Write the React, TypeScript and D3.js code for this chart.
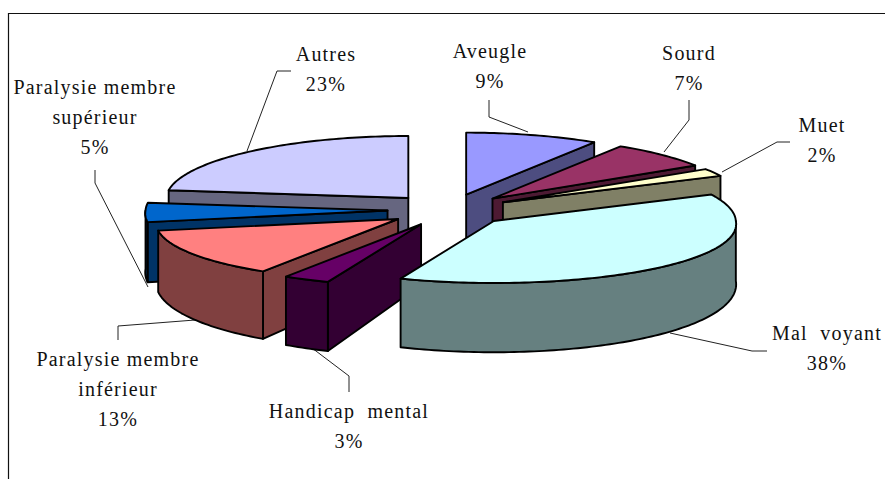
import React from "react";
import * as d3 from "d3";

const categories = ["Aveugle", "Sourd", "Muet", "Mal voyant", "Handicap mental", "Paralysie membre inférieur", "Paralysie membre supérieur", "Autres"];
const values = [9, 7, 2, 38, 3, 13, 5, 23];
const topColors = ["#9999FF", "#993366", "#FFFFCC", "#CCFFFF", "#660066", "#FF8080", "#0066CC", "#CCCCFF"];
const wallColors = ["#4D4D80", "#4D1A33", "#808066", "#668080", "#330033", "#804040", "#003366", "#666680"];
const drawOrder = [7, 0, 1, 2, 6, 5, 4, 3];

const labelLines = [
  ["Aveugle", "9%"],
  ["Sourd", "7%"],
  ["Muet", "2%"],
  ["Mal  voyant", "38%"],
  ["Handicap  mental", "3%"],
  ["Paralysie membre", "inférieur", "13%"],
  ["Paralysie membre", "supérieur", "5%"],
  ["Autres", "23%"],
];
const labelAnchors = [[490, 58], [689, 60], [822, 132], [827, 340], [349, 418], [118, 366], [95, 94], [326, 61]];
const leaders = [
  [[489, 100], [489, 117], [528, 132]],
  [[689, 100], [689, 120], [664, 152]],
  [[790, 142], [777, 142], [722, 172]],
  [[767, 351], [752, 351], [670, 333]],
  [[349, 392], [349, 376], [312, 348]],
  [[118, 340], [118, 326], [195, 320]],
  [[95, 170], [95, 183], [148, 287]],
  [[291, 71], [277, 71], [247, 151]],
];

const W = 885, H = 479;
const cx = 449, cy = 210, rx = 242, ry = 62, explodeX = 61.5, explodeY = 16;
const depth = d3.scaleLinear().domain([142, 281]).range([48, 69]);
const line = d3.line();

const arcs = d3.pie<number>().sort(null).startAngle(0).endAngle(2 * Math.PI)(values);

function bottom([x, y]: number[]) { return [x, y + depth(y)]; }

function sample(a: number, b: number, ox: number, oy: number) {
  const n = Math.max(2, Math.ceil((b - a) / 0.02));
  return d3.range(n + 1).map((i) => {
    const t = a + ((b - a) * i) / n;
    const c = Math.cos(t);
    const persp = c < 0 ? 1 - 0.05 * c : 1 - 0.015 * c;
    return [ox + rx * persp * Math.sin(t), oy - ry * c];
  });
}

function Slice({ i }: { i: number }) {
  const { startAngle: a, endAngle: b } = arcs[i];
  const mid = (a + b) / 2;
  const ox = cx + explodeX * Math.sin(mid);
  const oy = cy - explodeY * Math.cos(mid);
  const apex = [ox, oy];
  const rimA = Math.max(a, Math.PI / 2), rimB = Math.min(b, (3 * Math.PI) / 2);
  const edge = sample(a, b, ox, oy);
  const parts: any[] = [];
  const wall = (p: number[], k: string) => (
    <path key={k} d={line([apex, p, bottom(p), bottom(apex)]) + "Z"} fill={wallColors[i]} stroke="#000" strokeWidth={1.9} strokeLinejoin="round" />
  );
  if (Math.sin(a) < -1e-6) parts.push(wall(edge[0], "s"));
  if (Math.sin(b) > 1e-6) parts.push(wall(edge[edge.length - 1], "e"));
  if (rimB > rimA) {
    const rim = sample(rimA, rimB, ox, oy);
    parts.push(<path key="r" d={line([...rim, ...rim.slice().reverse().map(bottom)]) + "Z"} fill={wallColors[i]} stroke="#000" strokeWidth={1.9} strokeLinejoin="round" />);
  }
  parts.push(<path key="t" d={line([apex, ...edge]) + "Z"} fill={topColors[i]} stroke="#000" strokeWidth={1.9} strokeLinejoin="round" />);
  return <g>{parts}</g>;
}

export default function App() {
  return (
    <svg width={W} height={H} viewBox={`0 0 ${W} ${H}`} style={{ position: "absolute", left: 0, top: 0, background: "#fff" }}>
      <path d={`M8.5,${H} V13.5 H${W}`} fill="none" stroke="#111" strokeWidth={1.2} />
      {leaders.map((l, i) => (
        <path key={i} d={line(l as any) as string} fill="none" stroke="#222" strokeWidth={1} />
      ))}
      {drawOrder.map((i) => <Slice key={i} i={i} />)}
      {categories.map((c, i) => (
        <text key={c} x={labelAnchors[i][0]} y={labelAnchors[i][1]} textAnchor="middle" fontFamily="'Liberation Serif'" fontSize={20} letterSpacing={1.2} fill="#111" style={{ whiteSpace: "pre" }}>
          {labelLines[i].map((t, j) => (
            <tspan key={j} x={labelAnchors[i][0]} dy={j === 0 ? 0 : 30}>{t}</tspan>
          ))}
        </text>
      ))}
    </svg>
  );
}
